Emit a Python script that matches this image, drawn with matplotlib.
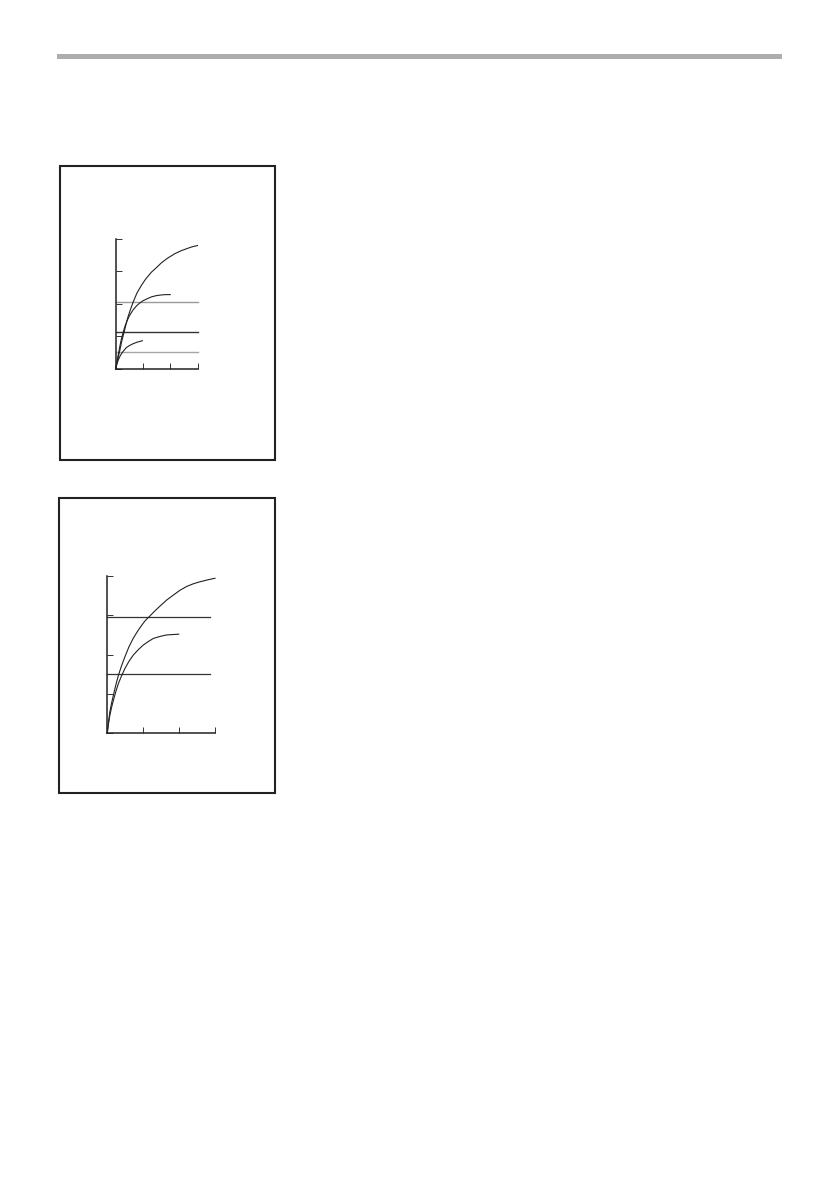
import matplotlib
matplotlib.use("Agg")
import matplotlib.pyplot as plt
from matplotlib.patches import Rectangle

W, H = 840, 1190

# upper chart: three rising curves, three level lines
top_x1 = [0, 0.05, 0.1, 0.15, 0.22, 0.31, 0.38, 0.45, 0.54, 0.64, 0.78, 0.94, 1.1,
          1.31, 1.48, 1.68, 1.9, 2.17, 2.4, 2.66, 2.8, 3.0]
top_y1 = [0, 0.2, 0.38, 0.56, 0.84, 1.13, 1.37, 1.59, 1.82, 2.05, 2.33, 2.56, 2.76,
          2.97, 3.1, 3.26, 3.4, 3.54, 3.63, 3.71, 3.75, 3.79]
mid_x1 = [0, 0.04, 0.09, 0.15, 0.21, 0.28, 0.35, 0.43, 0.51, 0.63, 0.76, 0.88, 1.0,
          1.15, 1.31, 1.5, 1.68, 1.85, 2.0]
mid_y1 = [0, 0.19, 0.41, 0.68, 0.92, 1.14, 1.33, 1.5, 1.64, 1.8, 1.93, 2.02, 2.09,
          2.15, 2.21, 2.25, 2.27, 2.28, 2.28]
low_x1 = [0, 0.04, 0.09, 0.15, 0.21, 0.3, 0.39, 0.5, 0.64, 0.8, 0.98]
low_y1 = [0, 0.13, 0.26, 0.37, 0.46, 0.56, 0.65, 0.71, 0.77, 0.82, 0.86]
levels1 = [2.06, 1.13, 0.50]
level_colors1 = ["#9a9a9a", "#333333", "#a5a5a5"]
level_end1 = 3.0

# lower chart: two rising curves, two level lines
top_x2 = [0, 0.03, 0.07, 0.12, 0.17, 0.24, 0.31, 0.4, 0.49, 0.6, 0.72, 0.84, 0.96,
          1.06, 1.17, 1.32, 1.47, 1.65, 1.84, 2.02, 2.21, 2.4, 2.58, 2.8, 3.0]
top_y2 = [0, 0.25, 0.53, 0.76, 0.96, 1.23, 1.47, 1.72, 1.94, 2.19, 2.41, 2.59, 2.75,
          2.87, 2.97, 3.11, 3.24, 3.39, 3.52, 3.64, 3.74, 3.81, 3.86, 3.91, 3.95]
mid_x2 = [0, 0.03, 0.07, 0.12, 0.17, 0.24, 0.31, 0.4, 0.49, 0.6, 0.72, 0.86, 1.0,
          1.14, 1.28, 1.46, 1.65, 1.82, 1.99]
mid_y2 = [0, 0.21, 0.44, 0.65, 0.83, 1.06, 1.26, 1.46, 1.64, 1.82, 1.98, 2.12, 2.24,
          2.33, 2.41, 2.46, 2.50, 2.51, 2.52]
levels2 = [2.96, 1.50]
level_colors2 = ["#333333", "#333333"]
level_end2 = 2.87

x_ticks = [0, 1, 2, 3]
y_ticks = [0, 1, 2, 3, 4]


def px_axes(fig, x0, x1, y_top, y_bot):
    return fig.add_axes([x0 / W, 1 - y_bot / H, (x1 - x0) / W, (y_bot - y_top) / H])


def box(fig, x0, x1, y_top, y_bot):
    fig.patches.append(Rectangle((x0 / W, 1 - y_bot / H), (x1 - x0) / W, (y_bot - y_top) / H,
                                 transform=fig.transFigure, fill=False,
                                 edgecolor="#222222", linewidth=1.5))


def style(ax):
    ax.set_xlim(0, 3)
    ax.set_ylim(0, 4)
    ax.set_xticks(x_ticks)
    ax.set_yticks(y_ticks)
    ax.set_xticklabels([])
    ax.set_yticklabels([])
    ax.tick_params(direction="in", length=4.5, width=0.7, colors="#333333")
    for s in ["top", "right"]:
        ax.spines[s].set_visible(False)
    for s in ["left", "bottom"]:
        ax.spines[s].set_linewidth(1.1)
        ax.spines[s].set_color("#222222")
    ax.patch.set_alpha(0)


fig = plt.figure(figsize=(W / 100, H / 100), dpi=100)

# grey rule at the top of the page
fig.patches.append(Rectangle((57 / W, 1 - 58.6 / H), (782 - 57) / W, 5 / H,
                             transform=fig.transFigure, facecolor="#adadad",
                             edgecolor="none"))

box(fig, 60.3, 275.3, 165.5, 459.8)
box(fig, 59.3, 275.2, 497.8, 793.2)

ax1 = px_axes(fig, 115.7, 197.5, 238.7, 368.7)
for lv, c in zip(levels1, level_colors1):
    ax1.plot([0, level_end1], [lv, lv], color=c, lw=1.0, clip_on=False)
ax1.plot(top_x1, top_y1, color="#222222", lw=0.8, clip_on=False)
ax1.plot(mid_x1, mid_y1, color="#222222", lw=0.8, clip_on=False)
ax1.plot(low_x1, low_y1, color="#222222", lw=0.8, clip_on=False)
style(ax1)

ax2 = px_axes(fig, 107.3, 215.0, 576.3, 732.7)
for lv, c in zip(levels2, level_colors2):
    ax2.plot([0, level_end2], [lv, lv], color=c, lw=0.9, clip_on=False)
ax2.plot(top_x2, top_y2, color="#222222", lw=0.8, clip_on=False)
ax2.plot(mid_x2, mid_y2, color="#222222", lw=0.8, clip_on=False)
style(ax2)

fig.savefig("out.png", dpi=100)
